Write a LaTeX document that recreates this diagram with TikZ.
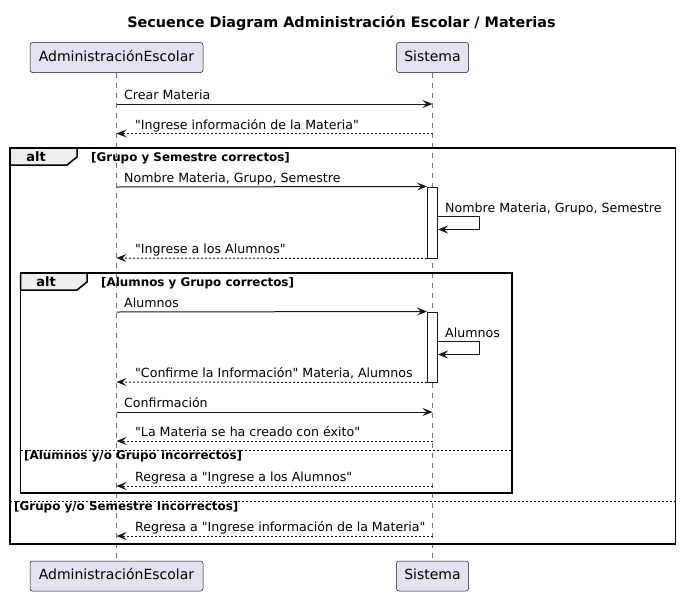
\documentclass[tikz,border=0pt]{standalone}
\usepackage{fontspec}
\setmainfont{DejaVu Sans}[Ligatures=TeXOff]
\usetikzlibrary{arrows.meta}
\definecolor{ln}{HTML}{181818}
\definecolor{pfill}{HTML}{E2E2F0}
\definecolor{tabfill}{HTML}{EEEEEE}
\newcommand\msgfont{\fontsize{12.6}{15}\selectfont}
\newcommand\partfont{\fontsize{14}{16}\selectfont}
\newcommand\altfont{\fontsize{13}{15}\selectfont}
\newcommand\grdfont{\fontsize{11.9}{13}\selectfont}
\newcommand\ttlfont{\fontsize{14.4}{16}\selectfont}
\tikzset{
  part/.style={draw=ln, fill=pfill, line width=0.5pt, rounded corners=2.5pt,
    minimum height=30pt, inner sep=0pt, text height=10pt, text depth=3pt, font=\partfont},
  msgtxt/.style={anchor=base west, inner sep=0pt, font=\msgfont},
  msg/.style={draw=ln, line width=1pt, -{Stealth[length=10pt,width=8pt,inset=4pt]}},
  ret/.style={msg, dash pattern=on 2pt off 2pt},
  lifeline/.style={draw=ln!60, line width=0.5pt, dash pattern=on 5pt off 5pt},
  frameline/.style={draw=black, line width=1.5pt, line join=miter},
  tabshape/.style={draw=black, line width=1.5pt, fill=tabfill, line join=miter},
  sepline/.style={draw=black, line width=1pt, dash pattern=on 2pt off 2pt},
  guard/.style={anchor=base west, inner sep=0pt, font=\bfseries\grdfont},
  alttxt/.style={anchor=base, inner sep=0pt, font=\bfseries\altfont},
  actbar/.style={draw=ln, fill=white, line width=1pt, minimum width=10pt, inner sep=0pt}
}
\begin{document}
\begin{tikzpicture}[x=1pt, y=-1pt]
\useasboundingbox (0,0) rectangle (681,595);
\fill[white] (0,0) rectangle (681,595);

\node[anchor=base, inner sep=0pt, font=\bfseries\ttlfont] (title) at (341.5,27) {Secuence Diagram Administración Escolar / Materias};

% participants
\node[part, minimum width=173pt] (pa) at (116.5,57.5) {AdministraciónEscolar};
\node[part, minimum width=72pt] (ps) at (432.5,57.5) {Sistema};
\node[part, minimum width=173pt] (pab) at (116.5,576) {AdministraciónEscolar};
\node[part, minimum width=72pt] (psb) at (432.5,576) {Sistema};

% lifelines
\draw[lifeline] (pa.south) -- (pab.north);
\draw[lifeline] (ps.south) -- (psb.north);

% frames (tabs first)
\draw[tabshape] (10,148) -- (77,148) -- (77,157) -- (67,165) -- (10,165) -- cycle;
\draw[frameline] (10,148) rectangle (675.5,544);
\node[alttxt] (alt1) at (36,161) {alt};
\node[guard] (g1) at (91,161) {[Grupo y Semestre correctos]};

\draw[tabshape] (20.5,273) -- (87,273) -- (87,282) -- (77,290) -- (20.5,290) -- cycle;
\draw[frameline] (20.5,273) rectangle (512,493);
\node[alttxt] (alt2) at (46,286) {alt};
\node[guard] (g2) at (101,286) {[Alumnos y Grupo correctos]};

\draw[sepline] (20.5,450.5) -- (512,450.5);
\node[guard] (g3) at (24,459) {[Alumnos y/o Grupo incorrectos]};
\draw[sepline] (10,501) -- (675.5,501);
\node[guard] (g4) at (14,510) {[Grupo y/o Semestre Incorrectos]};

% activation bars
\node[actbar, minimum height=71pt] (act1) at (432.5,222.5) {};
\node[actbar, minimum height=70pt] (act2) at (432.5,347) {};

% message coordinates
\coordinate (m1a) at (pa.south |- 0,104);
\coordinate (m1b) at (ps.south |- 0,104);
\coordinate (m2a) at (pa.south |- 0,133.5);
\coordinate (m2b) at (ps.south |- 0,133.5);
\coordinate (m3a) at (pa.south |- 0,187);
\coordinate (m5a) at (pa.south |- 0,258);
\coordinate (m6a) at (pa.south |- 0,312);
\coordinate (m8a) at (pa.south |- 0,382);
\coordinate (m9a) at (pa.south |- 0,412);
\coordinate (m9b) at (ps.south |- 0,412);
\coordinate (m10a) at (pa.south |- 0,441);
\coordinate (m10b) at (ps.south |- 0,441);
\coordinate (m12a) at (pa.south |- 0,486);
\coordinate (m12b) at (ps.south |- 0,486);
\coordinate (m15a) at (pa.south |- 0,536);
\coordinate (m15b) at (ps.south |- 0,536);
\coordinate (s1a) at (act1.east |- 0,216.5);
\coordinate (s1b) at (479.5,216.5);
\coordinate (s1c) at (479.5,229.5);
\coordinate (s1d) at (act1.east |- 0,229.5);
\coordinate (s2a) at (act2.east |- 0,341.5);
\coordinate (s2b) at (479.5,341.5);
\coordinate (s2c) at (479.5,354.5);
\coordinate (s2d) at (act2.east |- 0,354.5);

% messages
\draw[msg] (m1a) -- (m1b);
\node[msgtxt] (t1) at (124,99.5) {Crear Materia};
\draw[ret] (m2b) -- (m2a);
\node[msgtxt] (t2) at (135,129) {"Ingrese información de la Materia"};

\draw[msg] (m3a) -- (act1.north west);
\node[msgtxt] (t3) at (124,182.5) {Nombre Materia, Grupo, Semestre};
\draw[msg] (s1a) -- (s1b) -- (s1c) -- (s1d);
\node[msgtxt] (t4) at (445,212) {Nombre Materia, Grupo, Semestre};
\draw[ret] (act1.south west) -- (m5a);
\node[msgtxt] (t5) at (135,253.5) {"Ingrese a los Alumnos"};

\draw[msg] (m6a) -- (act2.north west);
\node[msgtxt] (t6) at (124,307.5) {Alumnos};
\draw[msg] (s2a) -- (s2b) -- (s2c) -- (s2d);
\node[msgtxt] (t7) at (445,337) {Alumnos};
\draw[ret] (act2.south west) -- (m8a);
\node[msgtxt] (t8) at (135,377.5) {"Confirme la Información" Materia, Alumnos};

\draw[msg] (m9a) -- (m9b);
\node[msgtxt] (t9) at (124,407) {Confirmación};
\draw[ret] (m10b) -- (m10a);
\node[msgtxt] (t10) at (135,436.5) {"La Materia se ha creado con éxito"};

\draw[ret] (m12b) -- (m12a);
\node[msgtxt] (t12) at (135,481.5) {Regresa a "Ingrese a los Alumnos"};

\draw[ret] (m15b) -- (m15a);
\node[msgtxt] (t15) at (135,531.5) {Regresa a "Ingrese información de la Materia"};
\end{tikzpicture}
\end{document}
